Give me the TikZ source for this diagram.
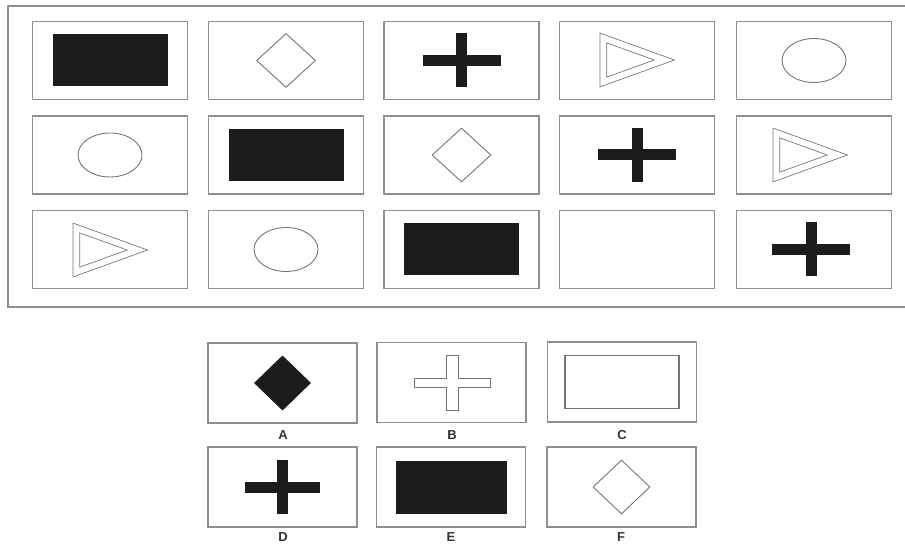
\documentclass[tikz,border=0pt]{standalone}
\usepackage{fontspec}
\setsansfont{Liberation Sans}
\usetikzlibrary{shapes.geometric}

\definecolor{frame}{HTML}{8E8E8E}
\definecolor{ink}{HTML}{1C1C1C}
\definecolor{pen}{HTML}{747474}

\begin{document}
\begin{tikzpicture}
[
    x=1pt, y=-1pt,
    cell/.style={draw=frame, line width=1.2pt, minimum width=155pt, minimum height=78pt, inner sep=0pt},
    opt/.style={draw=frame, line width=1.2pt, minimum width=149pt, minimum height=80pt, inner sep=0pt},
    blk/.style={fill=ink, minimum width=115pt, minimum height=52pt, inner sep=0pt},
    dia/.style={diamond, draw=pen, line width=0.9pt, minimum width=59pt, minimum height=54pt, inner sep=0pt},
    oval/.style={ellipse, draw=pen, line width=0.9pt, minimum width=64pt, minimum height=44pt, inner sep=0pt},
    hbar/.style={fill=ink, minimum width=78pt, minimum height=11pt, inner sep=0pt},
    vbar/.style={fill=ink, minimum width=11pt, minimum height=54pt, inner sep=0pt},
    tri/.style={isosceles triangle, isosceles triangle stretches, draw=pen, line width=0.8pt,
        double=white, double distance=6pt, minimum width=44pt, minimum height=61pt, inner sep=0pt,
        anchor=lower side},
    lbl/.style={font=\sffamily\bfseries\fontsize{13}{13}\selectfont, text=ink!90}
]
    \useasboundingbox (0,0) rectangle (905,545);
    \draw[frame, line width=1.2pt] (905,6) -- (8,6) -- (8,307) -- (905,307);

    % row 1
    \node[cell] (c11) at (110,60.5) {};
    \node[cell] (c12) at (286,60.5) {};
    \node[cell] (c13) at (461.5,60.5) {};
    \node[cell] (c14) at (637,60.5) {};
    \node[cell] (c15) at (814,60.5) {};
    \node[blk] (s11) at (c11) {};
    \node[dia] (s12) at (c12) {};
    \node[hbar] (s13h) at (c13) {};
    \node[vbar] (s13v) at (c13) {};
    \node[tri] (s14) at (603,60) {};
    \node[oval] (s15) at (c15) {};

    % row 2
    \node[cell] (c21) at (110,155) {};
    \node[cell] (c22) at (286,155) {};
    \node[cell] (c23) at (461.5,155) {};
    \node[cell] (c24) at (637,155) {};
    \node[cell] (c25) at (814,155) {};
    \node[oval] (s21) at (c21) {};
    \node[blk] (s22) at (c22) {};
    \node[dia] (s23) at (c23) {};
    \node[hbar] (s24h) at (c24) {};
    \node[vbar] (s24v) at (c24) {};
    \node[tri] (s25) at (776,155) {};

    % row 3
    \node[cell] (c31) at (110,249.5) {};
    \node[cell] (c32) at (286,249.5) {};
    \node[cell] (c33) at (461.5,249.5) {};
    \node[cell] (c34) at (637,249.5) {};
    \node[cell] (c35) at (814,249.5) {};
    \node[tri] (s31) at (76,250) {};
    \node[oval] (s32) at (c32) {};
    \node[blk] (s33) at (c33) {};
    \node[hbar] (s35h) at (811,249.5) {};
    \node[vbar] (s35v) at (811,249.5) {};

    % answers
    \node[opt] (oa) at (282.5,383) {};
    \node[opt] (ob) at (451.5,382.5) {};
    \node[opt] (oc) at (622,382) {};
    \node[opt] (od) at (282.5,487) {};
    \node[opt] (oe) at (451,487) {};
    \node[opt] (of) at (621.5,487) {};

    \node[dia, fill=ink, draw=ink, minimum width=56pt] (sa) at (oa) {};
    \draw[pen, line width=0.9pt, shift={(452,383)}]
        (-6,-27.5) -- (6,-27.5) -- (6,-4.5) -- (38,-4.5) -- (38,4.5) -- (6,4.5) -- (6,27.5)
        -- (-6,27.5) -- (-6,4.5) -- (-38,4.5) -- (-38,-4.5) -- (-6,-4.5) -- cycle;
    \node[blk, fill=none, draw=pen, line width=1.1pt, minimum width=114pt, minimum height=53pt] (sc) at (oc) {};
    \node[hbar, minimum width=75pt] (sdh) at (od) {};
    \node[vbar] (sdv) at (od) {};
    \node[blk, minimum width=111pt, minimum height=53pt] (se) at (oe) {};
    \node[dia, minimum width=57pt] (sf) at (of) {};

    \node[lbl] (la) at (283,435) {A};
    \node[lbl] (lb) at (452,435) {B};
    \node[lbl] (lc) at (622,435) {C};
    \node[lbl] (ld) at (283,537) {D};
    \node[lbl] (le) at (451,537) {E};
    \node[lbl] (lf) at (621,537) {F};
\end{tikzpicture}
\end{document}
